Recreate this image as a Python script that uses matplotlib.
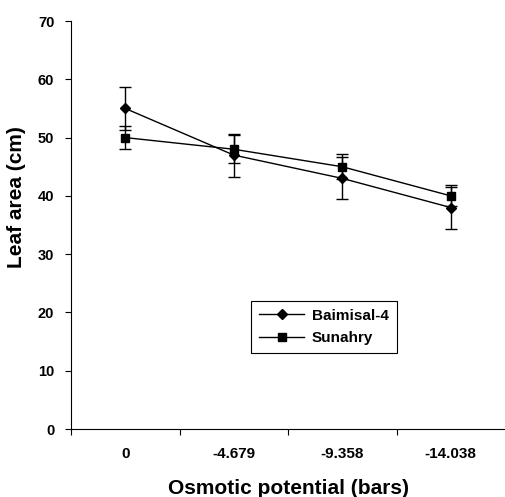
import matplotlib.pyplot as plt
import numpy as np

plt.rcParams['font.family'] = ['Liberation Sans', 'DejaVu Sans']
plt.rcParams['font.weight'] = 'bold'

# data
categories = ['0', '-4.679', '-9.358', '-14.038']
baimisal = [55.0, 47.0, 43.0, 38.0]
baimisal_err = [3.7, 3.7, 3.6, 3.6]
sunahry = [50.0, 48.0, 45.0, 40.0]
sunahry_err = [2.0, 2.4, 2.1, 1.8]

x = np.arange(len(categories))

fig = plt.figure(figsize=(5.05, 4.97), dpi=100)
ax = fig.add_axes([0.1406, 0.1368, 0.8594, 0.8209])

ax.errorbar(x, baimisal, yerr=baimisal_err, color='black', lw=1, marker='D',
            ms=5.2, capsize=4.5, elinewidth=1, capthick=1, label='Baimisal-4')
ax.errorbar(x, sunahry, yerr=sunahry_err, color='black', lw=1, marker='s',
            ms=6, capsize=4.5, elinewidth=1, capthick=1, label='Sunahry')

ax.set_xlim(-0.5, 3.5)
ax.set_ylim(0, 70)
ax.set_yticks(range(0, 71, 10))
ax.set_xticks(x)
ax.set_xticklabels(categories)
ax.set_xticks(np.arange(-0.5, 3.5, 1), minor=True)
ax.tick_params(axis='x', which='major', length=0, pad=13, labelsize=11)
ax.tick_params(axis='x', which='minor', length=4, width=0.8)
ax.tick_params(axis='y', length=4, width=0.8, labelsize=10.5, pad=8)

ax.spines['top'].set_visible(False)
ax.spines['right'].set_visible(False)
ax.spines['left'].set_linewidth(0.8)
ax.spines['bottom'].set_linewidth(0.8)

ax.set_ylabel('Leaf area (cm)', fontsize=15, fontweight='bold')
ax.yaxis.set_label_coords(-0.103, 0.569)
ax.set_xlabel('Osmotic potential (bars)', fontsize=15, fontweight='bold', labelpad=13)

handles, labels = ax.get_legend_handles_labels()
handles = [h[0] for h in handles]
leg = ax.legend(handles, labels, loc='upper left', bbox_to_anchor=(0.497, 0.394),
                bbox_transform=fig.transFigure, fancybox=False, edgecolor='black',
                framealpha=1, fontsize=11, handlelength=3.0, borderpad=0.5,
                labelspacing=0.55, handletextpad=0.5, borderaxespad=0)
leg.get_frame().set_linewidth(0.8)

plt.savefig('out.png', dpi=100)
